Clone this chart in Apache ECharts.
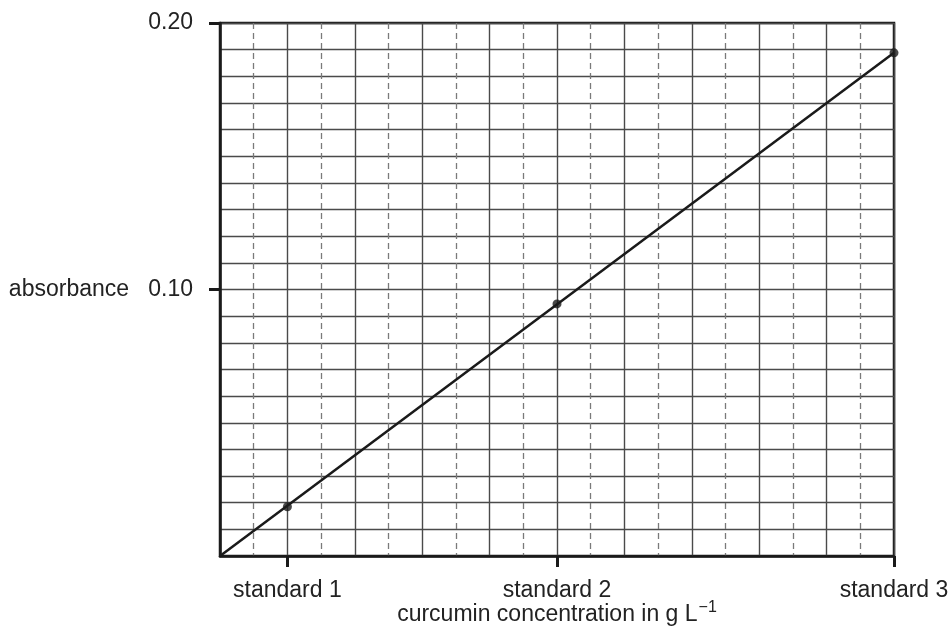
<!DOCTYPE html>
<html>
<head>
<meta charset="utf-8">
<script src="https://cdn.jsdelivr.net/npm/echarts@6/dist/echarts.min.js"></script>
<style>
  html, body { margin: 0; padding: 0; background: #fff; }
  #main { width: 951px; height: 630px; }
</style>
</head>
<body>
<div id="main"></div>
<script>
// standards along x (arbitrary concentration units), absorbance on y
var standardPos = [1, 5, 10];
var standardNames = ['standard 1', 'standard 2', 'standard 3'];
var absorbance = [0.0185, 0.0946, 0.1888];
var fitLine = [[0, 0], [10, 0.1888]];
var yTickValues = [0.1, 0.2];
var yTickLabels = ['absorbance   0.10', '0.20'];

var fontFamily = '"Liberation Sans", Arial, sans-serif',
    textColor = '#222',
    fontSize = 23,
    axisColor = '#1a1a1a';

var myChart = echarts.init(document.getElementById('main'));

var points = standardPos.map(function (x, i) { return [x, absorbance[i]]; });

function pickLabel(values, labels) {
    return function (v) {
        for (var i = 0; i < values.length; i++) {
            if (Math.abs(v - values[i]) < 1e-9) return labels[i];
        }
        return '';
    };
}

var option = {
    animation: false,
    textStyle: { fontFamily: fontFamily, color: textColor },
    grid: {
        left: 220, top: 23, right: 57, bottom: 74,
        outerBoundsMode: 'none',
        containLabel: false,
        show: true,
        borderColor: axisColor,
        borderWidth: 2.5,
        backgroundColor: '#fff'
    },
    xAxis: [{
        // grid only: solid every unit, dashed every half unit
        type: 'value',
        min: 0,
        max: 10,
        interval: 1,
        axisLine: { show: false },
        axisTick: { show: false },
        axisLabel: { show: false },
        splitLine: { show: true, lineStyle: { color: '#4a4a4a', width: 1.4 } },
        minorTick: { show: false, splitNumber: 2 },
        minorSplitLine: { show: true, lineStyle: { color: '#7a7a7a', width: 1.3, type: [6, 4] } }
    }, {
        // labels and ticks at the standards
        type: 'value',
        position: 'bottom',
        min: 0,
        max: 10,
        axisLine: { show: true, onZero: false, lineStyle: { color: axisColor, width: 2.5 } },
        axisTick: {
            show: true,
            length: 11,
            customValues: standardPos,
            lineStyle: { color: axisColor, width: 3 }
        },
        axisLabel: {
            customValues: standardPos,
            margin: 23,
            fontSize: fontSize,
            color: textColor,
            fontFamily: fontFamily,
            formatter: pickLabel(standardPos, standardNames)
        },
        splitLine: { show: false },
        name: '{a|curcumin concentration in g L}{s|\u22121}',
        nameLocation: 'middle',
        nameGap: 44,
        nameMoveOverlap: false,
        nameTextStyle: {
            verticalAlign: 'top',
            rich: {
                a: { fontSize: 23, color: textColor, fontFamily: fontFamily },
                s: { fontSize: 16, color: textColor, fontFamily: fontFamily, padding: [0, 0, 14, 1] }
            }
        }
    }],
    yAxis: [{
        type: 'value',
        min: 0,
        max: 0.2,
        interval: 0.01,
        axisLine: { show: false },
        axisTick: { show: false },
        axisLabel: { show: false },
        splitLine: { show: true, lineStyle: { color: '#4a4a4a', width: 1.4 } }
    }, {
        type: 'value',
        position: 'left',
        min: 0,
        max: 0.2,
        axisLine: { show: true, onZero: false, lineStyle: { color: axisColor, width: 2.5 } },
        axisTick: {
            show: true,
            length: 11,
            customValues: yTickValues,
            lineStyle: { color: axisColor, width: 3 }
        },
        axisLabel: {
            customValues: yTickValues,
            margin: 27,
            fontSize: fontSize,
            color: textColor,
            fontFamily: fontFamily,
            formatter: pickLabel(yTickValues, yTickLabels)
        },
        splitLine: { show: false }
    }],
    series: [{
        name: 'fit',
        type: 'line',
        xAxisIndex: 0,
        yAxisIndex: 0,
        data: fitLine,
        symbol: 'none',
        lineStyle: { color: axisColor, width: 2.5 },
        z: 3
    }, {
        name: 'standards',
        type: 'scatter',
        xAxisIndex: 0,
        yAxisIndex: 0,
        data: points,
        symbol: 'circle',
        symbolSize: 9,
        itemStyle: { color: axisColor },
        z: 4
    }]
};
myChart.setOption(option);
</script>
</body>
</html>
